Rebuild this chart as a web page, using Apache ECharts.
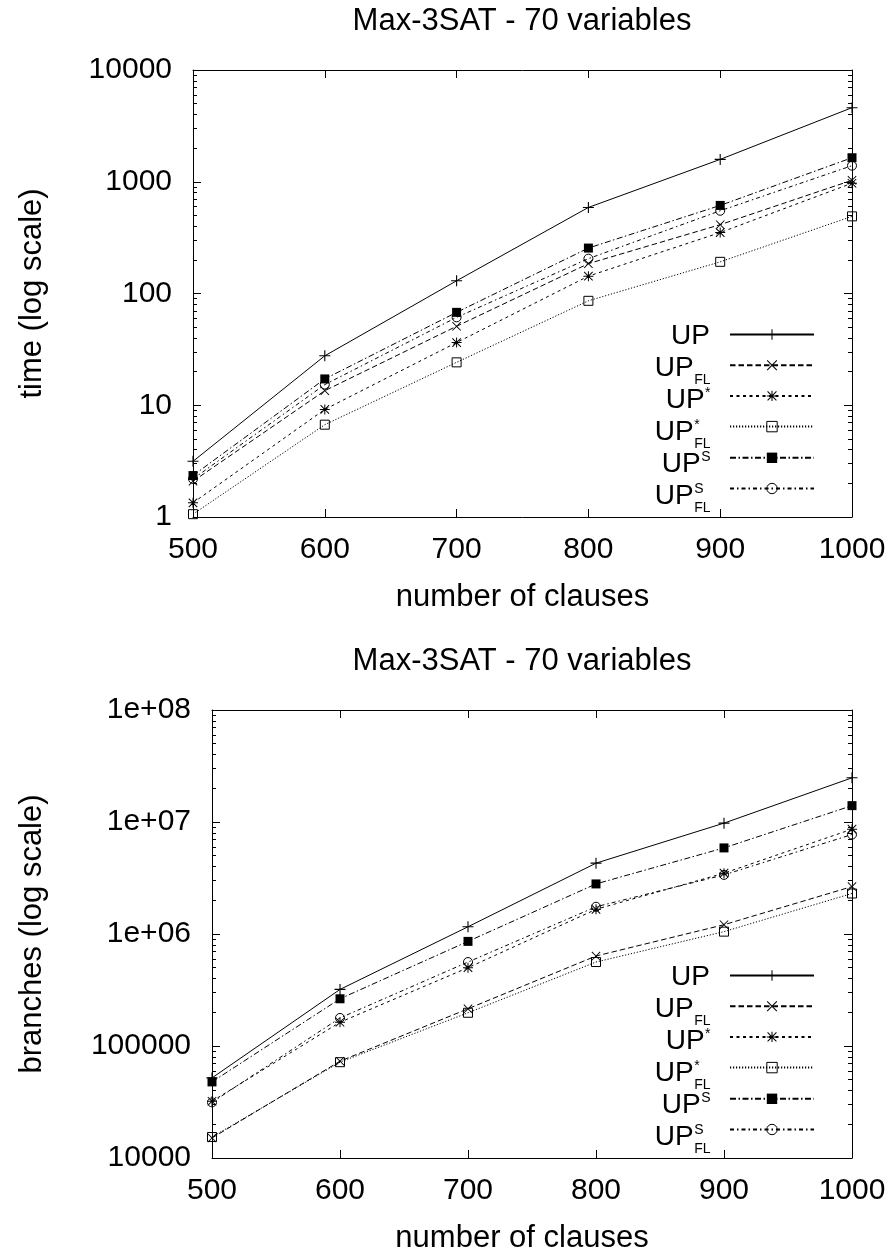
<!DOCTYPE html>
<html><head><meta charset="utf-8">
<script src="https://cdn.jsdelivr.net/npm/echarts@6/dist/echarts.min.js"></script>
<style>html,body{margin:0;padding:0;background:#fff}#c{width:896px;height:1256px}</style>
</head><body><div id="c"></div>
<script>
// ---------- data ----------
const clauses = [500, 600, 700, 800, 900, 1000];
const xTicks = [500, 600, 700, 800, 900, 1000];
const seriesNames = ['UP', 'UP_FL', 'UP*', 'UP*_FL', 'UP^S', 'UP^S_FL'];

// time (top chart)
const timeUP       = [3.15, 27.7, 130, 589, 1585, 4600];
const timeUPFL     = [2.09, 13.5, 50.9, 185, 413, 1031];
const timeUPstar   = [1.34, 9.18, 36.4, 143, 351, 970];
const timeUPstarFL = [1.06, 6.7, 24.2, 86, 192, 490];
const timeUPS      = [2.35, 17.2, 67.8, 255, 614, 1640];
const timeUPSFL    = [2.19, 15.3, 61.2, 205, 550, 1392];

// branches (bottom chart)
const brUP       = [51900, 320000, 1160000, 4290000, 9770000, 24800000];
const brUPFL     = [15100, 73200, 215000, 636000, 1210000, 2650000];
const brUPstar   = [32100, 163000, 500000, 1660000, 3490000, 8630000];
const brUPstarFL = [15400, 71700, 198000, 562000, 1050000, 2300000];
const brUPS      = [47800, 264000, 859000, 2800000, 5870000, 14000000];
const brUPSFL    = [31400, 178000, 562000, 1750000, 3370000, 7730000];

// tick values / labels
const timeMajor = [1, 10, 100, 1000, 10000];
const timeLabels = ['1', '10', '100', '1000', '10000'];
const timeMinor = [2,3,4,5,6,7,8,9, 20,30,40,50,60,70,80,90, 200,300,400,500,600,700,800,900, 2000,3000,4000,5000,6000,7000,8000,9000];
const branchMajor = [10000, 100000, 1000000, 10000000, 100000000];
const branchLabels = ['10000', '100000', '1e+06', '1e+07', '1e+08'];
const branchMinor = [20000,30000,40000,50000,60000,70000,80000,90000,
  200000,300000,400000,500000,600000,700000,800000,900000,
  2000000,3000000,4000000,5000000,6000000,7000000,8000000,9000000,
  20000000,30000000,40000000,50000000,60000000,70000000,80000000,90000000];

// legend label parts: [main, sup, sub]
const legendParts = [['UP','',''], ['UP','','FL'], ['UP','*',''], ['UP','*','FL'], ['UP','S',''], ['UP','S','FL']];

// ---------- styles ----------
const FONT = 'Liberation Sans, Arial, Helvetica, sans-serif';
const FS = 30, NFS = 31, LFS = 28, SFS = 14;
const PLUS = 'path://M45,0 L55,0 L55,45 L100,45 L100,55 L55,55 L55,100 L45,100 L45,55 L0,55 L0,45 L45,45 Z';
const CROSS = 'path://M0,7 L7,0 L50,43 L93,0 L100,7 L57,50 L100,93 L93,100 L50,57 L7,100 L0,93 L43,50 Z';
const STAR = 'path://M45,0 L55,0 L55,45 L100,45 L100,55 L55,55 L55,100 L45,100 L45,55 L0,55 L0,45 L45,45 Z M4,11 L11,4 L50,43 L89,4 L96,11 L57,50 L96,89 L89,96 L50,57 L11,96 L4,89 L43,50 Z';
const symbols = [PLUS, CROSS, STAR, 'rect', 'rect', 'circle'];
const symSizes = [11, 9, 10, 9, 9, 9];
const dashes = ['solid', [5.5, 3], [3, 3.5], [1.2, 1.8], [6, 2.5, 1.5, 2.5], [4, 3, 1.5, 3]];
const itemStyles = [
  {color: '#000'}, {color: '#000'}, {color: '#000'},
  {color: 'rgba(0,0,0,0)', borderColor: '#000', borderWidth: 1},
  {color: '#000'},
  {color: 'rgba(0,0,0,0)', borderColor: '#000', borderWidth: 1}
];

const G = [
  {left: 193, top: 70, width: 659, height: 447},
  {left: 212, top: 710, width: 640, height: 448}
];

function mkSeries(arr, i, g) {
  return {
    type: 'line', name: seriesNames[i], xAxisIndex: g, yAxisIndex: g,
    data: clauses.map((x, k) => [x, arr[k]]),
    symbol: symbols[i], symbolSize: symSizes[i],
    lineStyle: {color: '#000', width: 1, type: dashes[i]},
    itemStyle: itemStyles[i],
    clip: false, animation: false, silent: true
  };
}

const lineBlack = {show: true, lineStyle: {color: '#000', width: 1}};
const xAxes = [];
[0, 1].forEach(g => {
  xAxes.push({
    type: 'value', gridIndex: g, min: 500, max: 1000, interval: 100, position: 'bottom',
    axisLine: lineBlack, splitLine: {show: false},
    axisTick: {inside: true, length: 8, lineStyle: {color: '#000'}},
    axisLabel: {color: '#000', fontSize: FS, fontFamily: FONT, margin: 18, lineHeight: FS,
                customValues: xTicks, formatter: v => String(Math.round(v))},
    name: 'number of clauses', nameLocation: 'middle', nameGap: 65,
    nameTextStyle: {color: '#000', fontSize: NFS, fontFamily: FONT, lineHeight: NFS,
                    padding: g === 1 ? [0, 20, 0, 0] : 0}
  });
});
[0, 1].forEach(g => {
  xAxes.push({
    type: 'value', gridIndex: g, min: 500, max: 1000, interval: 100, position: 'top',
    axisLine: lineBlack, splitLine: {show: false},
    axisTick: {inside: true, length: 8, lineStyle: {color: '#000'}},
    axisLabel: {show: false}
  });
});

const yAxes = [];
const majors = [timeMajor, branchMajor], minors = [timeMinor, branchMinor], labs = [timeLabels, branchLabels];
const names = ['time (log scale)', 'branches (log scale)'];
const gaps = [145, 164];
[0, 1].forEach(g => {
  yAxes.push({
    type: 'log', logBase: 10, gridIndex: g, position: 'left',
    min: majors[g][0], max: majors[g][4],
    axisLine: lineBlack, splitLine: {show: false},
    axisTick: {inside: true, length: 8, customValues: majors[g], lineStyle: {color: '#000'}},
    axisLabel: {color: '#000', fontSize: FS, fontFamily: FONT, margin: 21, customValues: majors[g],
      formatter: v => labs[g][Math.round(Math.log10(v)) - Math.round(Math.log10(majors[g][0]))]},
    name: names[g], nameLocation: 'middle', nameGap: gaps[g],
    nameTextStyle: {color: '#000', fontSize: NFS, fontFamily: FONT, lineHeight: NFS}
  });
});
[0, 1].forEach(g => {
  yAxes.push({
    type: 'log', logBase: 10, gridIndex: g, position: 'left',
    min: majors[g][0], max: majors[g][4],
    axisLine: {show: false}, splitLine: {show: false}, axisLabel: {show: false},
    axisTick: {inside: true, length: 4, customValues: minors[g], lineStyle: {color: '#000'}}
  });
});
[0, 1].forEach(g => {
  yAxes.push({
    type: 'log', logBase: 10, gridIndex: g, position: 'right',
    min: majors[g][0], max: majors[g][4],
    axisLine: lineBlack, splitLine: {show: false}, axisLabel: {show: false},
    axisTick: {inside: true, length: 8, customValues: majors[g], lineStyle: {color: '#000'}}
  });
});
[0, 1].forEach(g => {
  yAxes.push({
    type: 'log', logBase: 10, gridIndex: g, position: 'right',
    min: majors[g][0], max: majors[g][4],
    axisLine: {show: false}, splitLine: {show: false}, axisLabel: {show: false},
    axisTick: {inside: true, length: 4, customValues: minors[g], lineStyle: {color: '#000'}}
  });
});

const series = [];
[timeUP, timeUPFL, timeUPstar, timeUPstarFL, timeUPS, timeUPSFL].forEach((a, i) => series.push(mkSeries(a, i, 0)));
[brUP, brUPFL, brUPstar, brUPstarFL, brUPS, brUPSFL].forEach((a, i) => series.push(mkSeries(a, i, 1)));

const legendTops = [328, 969];
const legends = legendTops.map(t => ({
  orient: 'vertical', right: 81, top: t, padding: 0, align: 'right',
  itemWidth: 84, itemHeight: 13, itemGap: 19, selectedMode: false,
  formatter: () => '', textStyle: {fontSize: 1},
  data: seriesNames.map((n, i) => ({name: n, itemStyle: itemStyles[i]}))
}));

const mctx = document.createElement('canvas').getContext('2d');
function tw(t, fs) { mctx.font = fs + 'px ' + FONT; return mctx.measureText(t).width; }
function txt(x, y, t, fs, align) {
  return {type: 'text', x: x, y: y, silent: true,
    style: {text: t, fill: '#000', fontSize: fs, fontFamily: FONT,
      align: align, verticalAlign: 'middle', textAlign: align, textVerticalAlign: 'middle'}};
}
const graphics = [];
graphics.push(txt(522, 21, 'Max-3SAT - 70 variables', NFS, 'center'));
graphics.push(txt(522, 661, 'Max-3SAT - 70 variables', NFS, 'center'));
const legendCY = [335, 976];
legendCY.forEach(cy0 => {
  legendParts.forEach((p, i) => {
    const cy = cy0 + i * 32;
    const w = Math.max(p[1] ? tw(p[1], SFS) : 0, p[2] ? tw(p[2], SFS) : 0);
    const xr = 710 - w;
    graphics.push(txt(xr, cy + 1, p[0], LFS, 'right'));
    if (p[1]) graphics.push(txt(xr + 0.5, cy - 6, p[1], SFS, 'left'));
    if (p[2]) graphics.push(txt(xr + 0.5, cy + 13, p[2], SFS, 'left'));
  });
});

const chart = echarts.init(document.getElementById('c'), null, {renderer: 'canvas'});
chart.setOption({
  animation: false,
  backgroundColor: '#fff',
  textStyle: {fontFamily: FONT, color: '#000'},
  grid: G.map(g => Object.assign({outerBoundsMode: 'none', containLabel: false}, g)),
  xAxis: xAxes,
  yAxis: yAxes,
  legend: legends,
  series: series,
  graphic: graphics
});
</script>
</body></html>
